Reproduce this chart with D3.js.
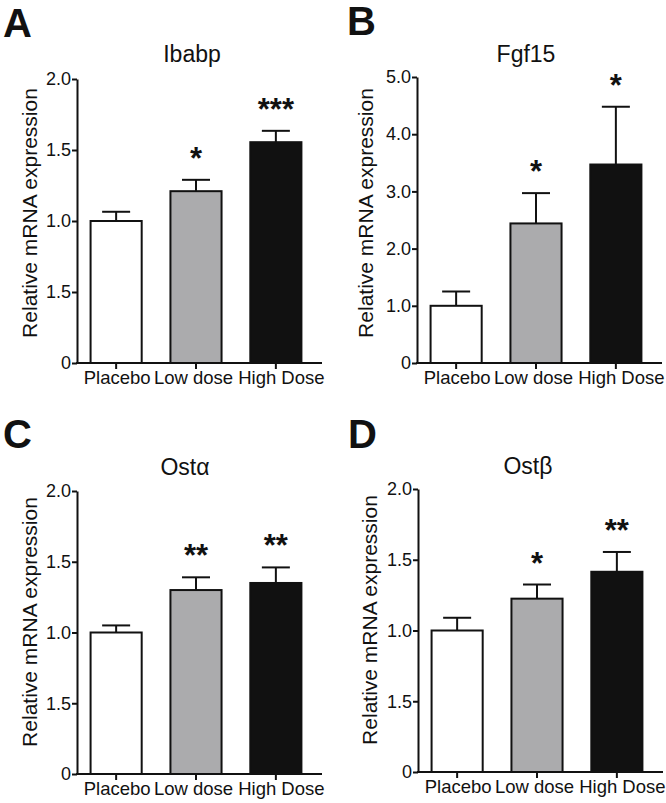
<!DOCTYPE html>
<html>
<head>
  <meta charset="utf-8">
  <script src="https://cdn.jsdelivr.net/npm/d3@7"></script>
  <style>
    body { margin: 0; background: #fff; }
    text { font-family: "Liberation Sans", Arial, sans-serif; fill: #111; }
  </style>
</head>
<body>
<script type="text/javascript">
  "use strict";

  // --- data ---
  var categories = ["Placebo", "Low dose", "High Dose"];
  var barColors = ["#ffffff", "#ababad", "#111111"];

  var ibabpMean = [1.0, 1.21, 1.555];
  var ibabpErr  = [0.065, 0.08, 0.08];
  var ibabpStars = ["", "*", "***"];

  var fgf15Mean = [1.0, 2.44, 3.47];
  var fgf15Err  = [0.25, 0.53, 1.01];
  var fgf15Stars = ["", "*", "*"];

  var ostaMean = [1.0, 1.30, 1.35];
  var ostaErr  = [0.05, 0.09, 0.11];
  var ostaStars = ["", "**", "**"];

  var ostbMean = [1.0, 1.225, 1.415];
  var ostbErr  = [0.09, 0.10, 0.14];
  var ostbStars = ["", "*", "**"];

  var ticks2 = [0, 0.5, 1.0, 1.5, 2.0];
  var ticks2Labels = ["0", "1.5", "1.0", "1.5", "2.0"];   // as printed in the figure
  var ticks5 = [0, 1, 2, 3, 4, 5];
  var ticks5Labels = ["0", "1.0", "2.0", "3.0", "4.0", "5.0"];

  // labels sit a little off their ticks in the original
  var labelShift = [1, -2.5, 5.5];

  // --- layout for each panel ---
  var panels = [
    {letter: "A", title: "Ibabp", mean: ibabpMean, err: ibabpErr, stars: ibabpStars,
     ymax: 2, ticks: ticks2, labels: ticks2Labels,
     ax: 77, y0: 363, yTop: 79, lx: 3, ly: 37, tx: 192, ty: 62, ylx: 30, yly: 213},
    {letter: "B", title: "Fgf15", mean: fgf15Mean, err: fgf15Err, stars: fgf15Stars,
     ymax: 5, ticks: ticks5, labels: ticks5Labels,
     ax: 417, y0: 363, yTop: 77, lx: 347, ly: 35, tx: 526, ty: 62, ylx: 366, yly: 213},
    {letter: "C", title: "Ost\u03b1", mean: ostaMean, err: ostaErr, stars: ostaStars,
     ymax: 2, ticks: ticks2, labels: ticks2Labels,
     ax: 77, y0: 774, yTop: 491, lx: 3, ly: 448, tx: 185, ty: 475, ylx: 30, yly: 622},
    {letter: "D", title: "Ost\u03b2", mean: ostbMean, err: ostbErr, stars: ostbStars,
     ymax: 2, ticks: ticks2, labels: ticks2Labels,
     ax: 418, y0: 772, yTop: 489, lx: 348, ly: 448, tx: 528, ty: 474, ylx: 370, yly: 620}
  ];

  var svg = d3.select("body").append("svg")
      .attr("width", 666)
      .attr("height", 803);

  panels.forEach(function(p) {
    var g = svg.append("g").attr("class", "panel");

    var x = d3.scaleBand()
        .domain(categories)
        .range([p.ax, p.ax + 238])
        .paddingInner(0.36)
        .paddingOuter(0.17);

    var y = d3.scaleLinear()
        .domain([0, p.ymax])
        .range([p.y0, p.yTop]);

    var rows = categories.map(function(c, i) {
      return {cat: c, mean: p.mean[i], err: p.err[i], star: p.stars[i], color: barColors[i]};
    });

    // bars
    g.selectAll("rect.bar").data(rows).enter().append("rect")
        .attr("class", "bar")
        .attr("x", function(d) { return x(d.cat); })
        .attr("width", x.bandwidth())
        .attr("y", function(d) { return y(d.mean); })
        .attr("height", function(d) { return y(0) - y(d.mean); })
        .attr("fill", function(d) { return d.color; })
        .attr("stroke", "#111")
        .attr("stroke-width", 2);

    // error bars (upper only)
    var cx = function(d) { return x(d.cat) + x.bandwidth() / 2; };
    g.selectAll("line.err").data(rows).enter().append("line")
        .attr("class", "err")
        .attr("x1", cx).attr("x2", cx)
        .attr("y1", function(d) { return y(d.mean); })
        .attr("y2", function(d) { return y(d.mean + d.err); })
        .attr("stroke", "#111").attr("stroke-width", 2);
    g.selectAll("line.cap").data(rows).enter().append("line")
        .attr("class", "cap")
        .attr("x1", function(d) { return cx(d) - 14; })
        .attr("x2", function(d) { return cx(d) + 14; })
        .attr("y1", function(d) { return y(d.mean + d.err); })
        .attr("y2", function(d) { return y(d.mean + d.err); })
        .attr("stroke", "#111").attr("stroke-width", 2);

    // significance stars
    g.selectAll("text.star").data(rows).enter().append("text")
        .attr("class", "star")
        .attr("x", cx)
        .attr("y", function(d) { return y(d.mean + d.err) - 29 + 18; })
        .attr("text-anchor", "middle")
        .style("font-size", "31px")
        .style("font-weight", "bold")
        .text(function(d) { return d.star; });

    // y axis
    var yAxis = d3.axisLeft(y)
        .tickValues(p.ticks)
        .tickFormat(function(d, i) { return p.labels[i]; })
        .tickSize(5)
        .tickSizeOuter(0)
        .tickPadding(1);
    var ya = g.append("g").attr("transform", "translate(" + p.ax + ",0)").call(yAxis);
    ya.select(".domain").attr("stroke", "#111").attr("stroke-width", 2);
    ya.selectAll(".tick line").attr("stroke", "#111").attr("stroke-width", 2);
    ya.selectAll(".tick text").style("font-size", "18px").attr("fill", "#111")
        .style("font-family", "'Liberation Sans', Arial, sans-serif");

    // x axis
    var xAxis = d3.axisBottom(x).tickSize(6).tickSizeOuter(0).tickPadding(2);
    var xa = g.append("g").attr("transform", "translate(0," + p.y0 + ")").call(xAxis);
    xa.select(".domain").remove();
    xa.append("line")
        .attr("x1", p.ax - 1).attr("x2", p.ax + 245)
        .attr("stroke", "#111").attr("stroke-width", 2);
    xa.selectAll(".tick line").attr("stroke", "#111").attr("stroke-width", 2);
    xa.selectAll(".tick text")
        .attr("dx", function(d, i) { return labelShift[i]; })
        .style("font-size", "18.5px").attr("fill", "#111")
        .style("font-family", "'Liberation Sans', Arial, sans-serif");

    // y label
    g.append("text")
        .attr("transform", "translate(" + (p.ylx + 7) + "," + p.yly + ") rotate(-90)")
        .attr("text-anchor", "middle")
        .style("font-size", "21px")
        .text("Relative mRNA expression");

    // title
    g.append("text")
        .attr("x", p.tx).attr("y", p.ty)
        .attr("text-anchor", "middle")
        .style("font-size", "23px")
        .text(p.title);

    // panel letter
    g.append("text")
        .attr("x", p.lx).attr("y", p.ly)
        .style("font-size", "40px")
        .style("font-weight", "bold")
        .text(p.letter);
  });
</script>
</body>
</html>
